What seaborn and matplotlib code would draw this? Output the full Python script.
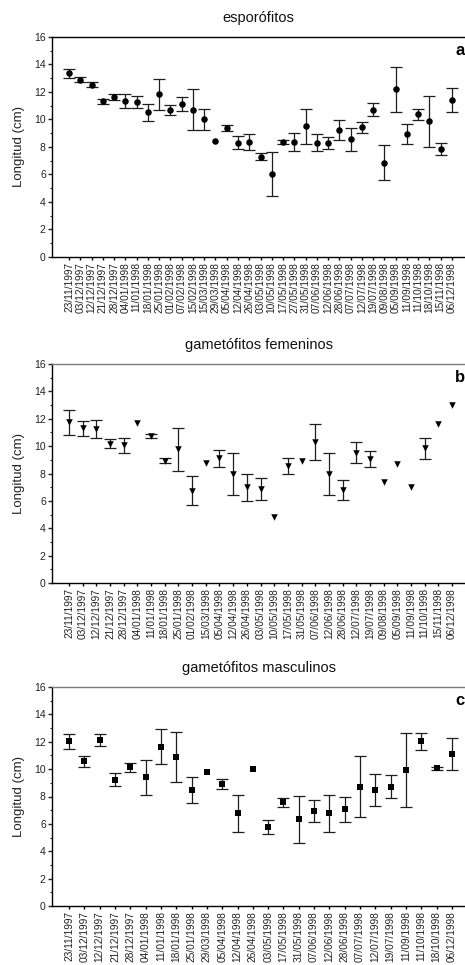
import numpy as np
import pandas as pd
import matplotlib
matplotlib.use("Agg")
import matplotlib.pyplot as plt
import seaborn as sns
from matplotlib.ticker import MultipleLocator

sns.set_style("ticks")
plt.rcParams["font.family"] = ["Liberation Sans", "DejaVu Sans"]

nan = np.nan

# --- esporófitos ---
fechas_a = ["23/11/1997", "03/12/1997", "12/12/1997", "21/12/1997", "28/12/1997",
            "04/01/1998", "11/01/1998", "18/01/1998", "25/01/1998", "01/02/1998",
            "07/02/1998", "15/02/1998", "15/03/1998", "29/03/1998", "05/04/1998",
            "12/04/1998", "26/04/1998", "03/05/1998", "10/05/1998", "17/05/1998",
            "27/05/1998", "31/05/1998", "07/06/1998", "12/06/1998", "28/06/1998",
            "07/07/1998", "12/07/1998", "19/07/1998", "09/08/1998", "05/09/1998",
            "11/09/1998", "11/10/1998", "18/10/1998", "15/11/1998", "06/12/1998"]
media_a = [13.36, 12.9, 12.53, 11.31, 11.63, 11.34, 11.29, 10.51, 11.85, 10.7,
           11.1, 10.7, 10.02, 8.42, 9.37, 8.32, 8.37, 7.3, 6.03, 8.37,
           8.37, 9.51, 8.3, 8.3, 9.25, 8.56, 9.44, 10.7, 6.86, 12.21,
           8.93, 10.39, 9.88, 7.86, 11.41]
error_a = [0.33, 0.2, 0.18, 0.15, 0.19, 0.5, 0.44, 0.63, 1.13, 0.39,
           0.5, 1.5, 0.75, nan, 0.2, 0.46, 0.6, 0.23, 1.6, 0.15,
           0.63, 1.28, 0.62, 0.45, 0.73, 0.82, 0.41, 0.47, 1.26, 1.64,
           0.73, 0.4, 1.86, 0.44, 0.87]

# --- gametófitos femeninos ---
fechas_b = ["23/11/1997", "03/12/1997", "12/12/1997", "21/12/1997", "28/12/1997",
            "04/01/1998", "11/01/1998", "18/01/1998", "25/01/1998", "01/02/1998",
            "15/03/1998", "05/04/1998", "12/04/1998", "26/04/1998", "03/05/1998",
            "10/05/1998", "17/05/1998", "31/05/1998", "07/06/1998", "12/06/1998",
            "28/06/1998", "12/07/1998", "19/07/1998", "09/08/1998", "05/09/1998",
            "11/09/1998", "11/10/1998", "15/11/1998", "06/12/1998"]
media_b = [11.73, 11.29, 11.26, 10.17, 10.05, 11.68, 10.73, 8.93, 9.76, 6.75,
           8.74, 9.1, 7.96, 6.99, 6.87, 4.81, 8.57, 8.91, 10.29, 7.96,
           6.8, 9.52, 9.08, 7.38, 8.72, 7.02, 9.83, 11.58, 12.99]
error_b = [0.92, 0.58, 0.63, 0.32, 0.53, nan, 0.13, 0.18, 1.55, 1.04,
           nan, 0.6, 1.56, 1.0, 0.8, nan, 0.57, nan, 1.33, 1.55,
           0.7, 0.75, 0.58, nan, nan, nan, 0.76, nan, nan]

# --- gametófitos masculinos ---
fechas_c = ["23/11/1997", "03/12/1997", "12/12/1997", "21/12/1997", "28/12/1997",
            "04/01/1998", "11/01/1998", "18/01/1998", "25/01/1998", "29/03/1998",
            "05/04/1998", "12/04/1998", "26/04/1998", "03/05/1998", "17/05/1998",
            "31/05/1998", "07/06/1998", "12/06/1998", "28/06/1998", "07/07/1998",
            "12/07/1998", "19/07/1998", "11/09/1998", "11/10/1998", "18/10/1998",
            "06/12/1998"]
media_c = [12.02, 10.56, 12.1, 9.24, 10.12, 9.41, 11.63, 10.88, 8.49, 9.8,
           8.93, 6.76, 10.0, 5.76, 7.59, 6.32, 6.95, 6.76, 7.07, 8.73,
           8.46, 8.73, 9.93, 12.02, 10.07, 11.12]
error_c = [0.57, 0.43, 0.44, 0.47, 0.35, 1.28, 1.28, 1.82, 0.96, nan,
           0.35, 1.37, nan, 0.49, 0.33, 1.7, 0.78, 1.35, 0.9, 2.23,
           1.16, 0.84, 2.7, 0.6, 0.12, 1.15]

W, H = 465, 965
fig = plt.figure(figsize=(W / 100, H / 100), dpi=100)


def panel(top_px, bottom_px, fechas, media, error, marker, size, titulo, letra, borde):
    ax = fig.add_axes([52 / W, 1 - bottom_px / H, 1 - 52 / W, (bottom_px - top_px) / H])
    df = pd.DataFrame({"fecha": fechas, "longitud": media, "error": error})
    sns.scatterplot(data=df, x="fecha", y="longitud", marker=marker, s=size,
                    color="black", edgecolor="black", linewidth=0, ax=ax, zorder=3)
    con_error = df.dropna(subset=["error"])
    ax.errorbar(con_error["fecha"], con_error["longitud"], yerr=con_error["error"],
                fmt="none", ecolor="#1e1e1e", elinewidth=0.9, capsize=4.3,
                capthick=0.9, zorder=2)

    n = len(fechas)
    paso = (452 - 69) / (n - 1)
    ax.set_xlim(-(69 - 52) / paso, (n - 1) + (465 - 452) / paso)
    ax.set_ylim(0, 16)
    ax.yaxis.set_major_locator(MultipleLocator(2))
    ax.yaxis.set_minor_locator(MultipleLocator(1))
    ax.set_xticks(range(n))
    ax.set_xticklabels(fechas, rotation=90, fontsize=7.3, color="#222222")
    ax.tick_params(axis="x", length=2.2, width=1.0, pad=1.5, colors="black",
                   labelcolor="#222222")
    ax.tick_params(axis="y", which="major", length=3, width=1.0, pad=1.5,
                   labelsize=7.5, labelcolor="#222222")
    ax.tick_params(axis="y", which="minor", length=1.5, width=0.8)

    ax.spines["right"].set_visible(False)
    ax.spines["top"].set_color(borde)
    for s in ("top", "left", "bottom"):
        ax.spines[s].set_linewidth(1.0)
    ax.spines["left"].set_color("black")
    ax.spines["bottom"].set_color("black")

    ax.set_xlabel("")
    ax.set_ylabel("Longitud (cm)", fontsize=9.5, color="#222222")
    ax.yaxis.set_label_coords(-0.066, 0.5)
    ax.set_title(titulo, fontsize=10.5, pad=10.8, color="#111111")
    ax.text(0.987, 0.94, letra, transform=ax.transAxes, ha="center", va="center",
            fontsize=12, fontweight="bold", color="black")
    ax.grid(False)
    return ax


panel(37, 257, fechas_a, media_a, error_a, "o", 22, "esporófitos", "a", "black")
panel(364, 583, fechas_b, media_b, error_b, "v", 22, "gametófitos femeninos", "b", "#7a7a7a")
panel(687, 906, fechas_c, media_c, error_c, "s", 14, "gametófitos masculinos", "c", "#7a7a7a")

fig.savefig("out.png", dpi=100)
